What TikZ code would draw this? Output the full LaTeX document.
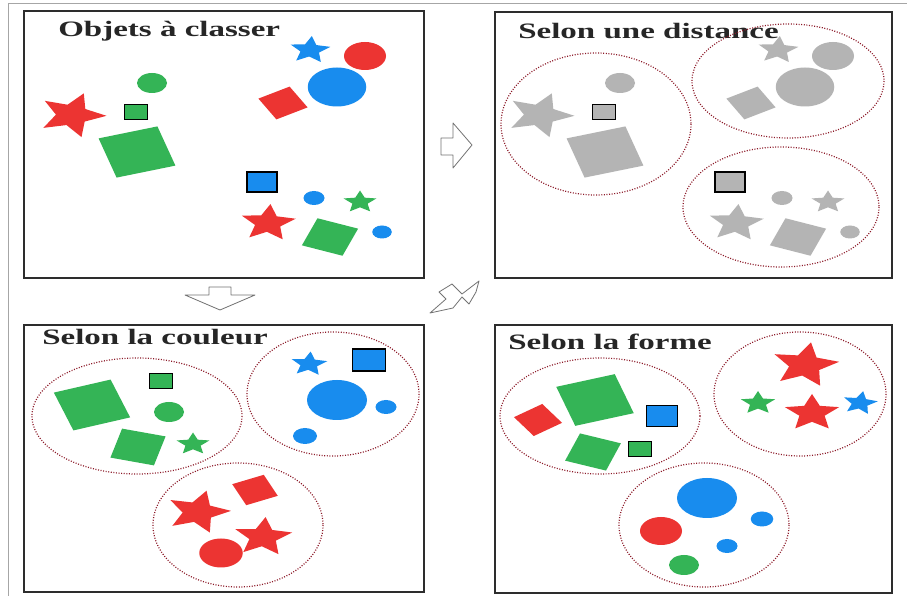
\documentclass[tikz,border=0pt]{standalone}
\usepackage{fontspec}
\setmainfont{Liberation Serif}
\usetikzlibrary{shapes.geometric,positioning}

\definecolor{objred}{RGB}{236,52,50}
\definecolor{objgreen}{RGB}{52,180,86}
\definecolor{objblue}{RGB}{24,140,238}
\definecolor{objgray}{RGB}{180,180,180}
\definecolor{grpred}{RGB}{140,25,40}
\definecolor{frame}{RGB}{45,45,45}

\tikzset{
  obj/.style={transform shape, inner sep=0pt, outer sep=0pt},
  disc/.style={obj, circle, minimum size=#1},
  sq/.style={obj, rectangle, minimum size=#1},
  etoile/.style={obj, star, star points=5, star point ratio=2.15, minimum size=#1},
  boxed/.style={draw=black, line width=1.1pt},
  grp/.style={draw=grpred, dash pattern=on 1pt off 1.6pt, line width=1.2pt},
  panel/.style={draw=frame, line width=1.4pt, inner sep=0pt},
  titre/.style={transform shape, anchor=base west, inner sep=0pt, text=black!85,
    font=\fontsize{22}{22}\bfseries\selectfont},
  fleche/.style={draw=black!55, line width=0.8pt, line join=round, fill=white}
}

% the fourteen objects, #1 = name prefix
\newcommand{\objets}[4]{%
  \node[etoile=28, fill=#4, rotate=-5] (#1s1) at (310,50) {};
  \node[disc=28, fill=#2] (#1c1) at (365,56) {};
  \node[disc=39, fill=#4] (#1c2) at (337,87) {};
  \node[sq=24, fill=#2, rotate=30] (#1q1) at (283,103) {};
  \node[disc=20, fill=#3] (#1c3) at (152,83) {};
  \node[etoile=46, fill=#2, rotate=-20] (#1s2) at (72,115) {};
  \node[sq=15, fill=#3, boxed] (#1q2) at (136,112) {};
  \node[sq=41, fill=#3, rotate=17] (#1q3) at (137,152) {};
  \node[sq=20, fill=#4, boxed] (#1q4) at (262,182) {};
  \node[disc=14, fill=#4] (#1c4) at (314,198) {};
  \node[etoile=23, fill=#3] (#1s3) at (360,202) {};
  \node[etoile=38, fill=#2, rotate=-5] (#1s4) at (268,223) {};
  \node[sq=29, fill=#3, rotate=-21] (#1q5) at (330,237) {};
  \node[disc=13, fill=#4] (#1c5) at (382,232) {};
}

\begin{document}
\begin{tikzpicture}[x=0.6666667pt, y=-1pt, xscale=1.5]
    \useasboundingbox (0,0) rectangle (907,596);
    \fill[white] (0,0) rectangle (907,596);
    \draw[black!35, line width=1pt] (8,596) -- (8,4) -- (907,4);

    % panels
    \node[panel, minimum width=400pt, minimum height=267pt] (p1) at (224,144.5) {};
    \node[panel, minimum width=397pt, minimum height=266pt] (p2) at (693.5,145) {};
    \node[panel, minimum width=400pt, minimum height=267pt] (p3) at (224,458.5) {};
    \node[panel, minimum width=397pt, minimum height=268pt] (p4) at (693.5,459) {};

    \node[titre] (t1) at (58,37) {Objets à classer};
    \node[titre] (t2) at (518,39) {Selon une distance};
    \node[titre] (t3) at (42,345) {Selon la couleur};
    \node[titre] (t4) at (508,350) {Selon la forme};

    % objets a classer
    \objets{a}{objred}{objgreen}{objblue}

    % selon une distance
    \draw[grp] (596,124) ellipse [x radius=95, y radius=71];
    \draw[grp] (788,81) ellipse [x radius=96, y radius=57];
    \draw[grp] (781,207) ellipse [x radius=98, y radius=60];
    \begin{scope}[shift={(468,0)}]
      \objets{b}{objgray}{objgray}{objgray}
    \end{scope}

    % selon la couleur
    \draw[grp] (137,416) ellipse [x radius=105, y radius=58];
    \draw[grp] (333,394) ellipse [x radius=86, y radius=62];
    \draw[grp] (238,525) ellipse [x radius=85, y radius=62];
    \node[sq=40, fill=objgreen, rotate=19] (cq1) at (92,405) {};
    \node[sq=15, fill=objgreen, boxed] (cq2) at (161,381) {};
    \node[disc=20, fill=objgreen] (cc1) at (169,412) {};
    \node[sq=30, fill=objgreen, rotate=-15] (cq3) at (138,447) {};
    \node[etoile=23, fill=objgreen] (cs1) at (193,444) {};
    \node[etoile=25, fill=objblue, rotate=-5] (cs2) at (309,364) {};
    \node[sq=22, fill=objblue, boxed] (cq4) at (369,360) {};
    \node[disc=40, fill=objblue] (cc2) at (337,400) {};
    \node[disc=14, fill=objblue] (cc3) at (386,407) {};
    \node[disc=16, fill=objblue] (cc4) at (305,436) {};
    \node[sq=23, fill=objred, rotate=24] (cq5) at (255,490) {};
    \node[etoile=44, fill=objred, rotate=-15] (cs3) at (198,512) {};
    \node[etoile=40, fill=objred, rotate=-5] (cs4) at (263,537) {};
    \node[disc=29, fill=objred] (cc5) at (221,553) {};

    % selon la forme
    \draw[grp] (600,416) ellipse [x radius=100, y radius=58];
    \draw[grp] (800,394) ellipse [x radius=86, y radius=62];
    \draw[grp] (704,525) ellipse [x radius=85, y radius=62];
    \node[sq=23, fill=objred, rotate=35] (fq1) at (538,420) {};
    \node[sq=41, fill=objgreen, rotate=18] (fq2) at (595,400) {};
    \node[sq=21, fill=objblue, boxed] (fq3) at (662,416) {};
    \node[sq=29, fill=objgreen, rotate=-20] (fq4) at (593,452) {};
    \node[sq=15, fill=objgreen, boxed] (fq5) at (640,449) {};
    \node[etoile=46, fill=objred, rotate=-10] (fs1) at (805,365) {};
    \node[etoile=24, fill=objgreen] (fs2) at (758,403) {};
    \node[etoile=38, fill=objred] (fs3) at (812,413) {};
    \node[etoile=24, fill=objblue, rotate=-10] (fs4) at (860,403) {};
    \node[disc=40, fill=objblue] (fc1) at (707,498) {};
    \node[disc=28, fill=objred] (fc2) at (661,531) {};
    \node[disc=15, fill=objblue] (fc3) at (762,519) {};
    \node[disc=14, fill=objblue] (fc4) at (727,546) {};
    \node[disc=20, fill=objgreen] (fc5) at (684,565) {};

    % block arrows
    \draw[fleche] (441,138) -- (453,138) -- (453,123) -- (472,145) -- (453,168)
        -- (453,155) -- (441,155) -- cycle;
    \draw[fleche] (209,287) -- (231,287) -- (231,295) -- (255,295) -- (220,310)
        -- (185,295) -- (209,295) -- cycle;
    \draw[fleche] (430,313) -- (446,299) -- (439,292) -- (452,284) -- (462,294)
        -- (479,281) -- (476,292) -- (469,304) -- (462,297) -- (453,308)
        -- cycle;
\end{tikzpicture}
\end{document}
